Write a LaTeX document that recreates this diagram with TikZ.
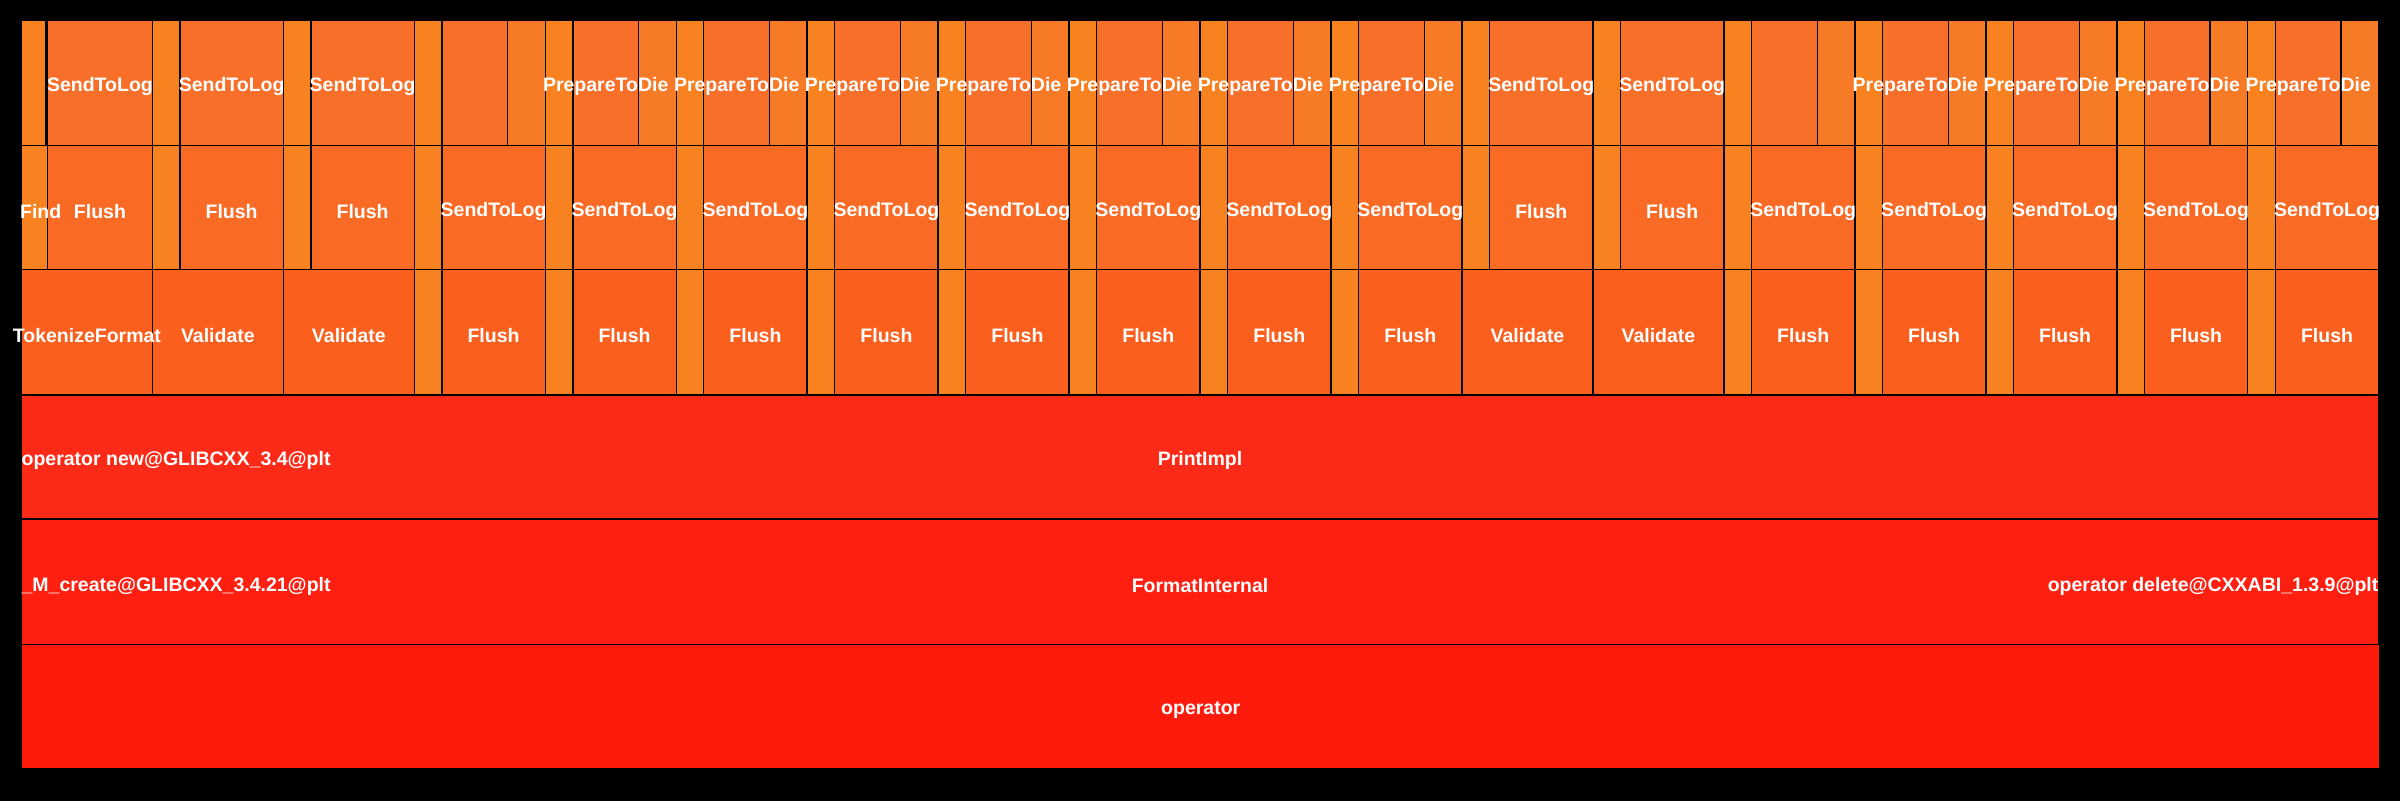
\documentclass[tikz,border=0pt]{standalone}
\usepackage{fontspec}
\setmainfont{Liberation Sans}
\definecolor{stubcol}{HTML}{F8821F}
\definecolor{topcol}{HTML}{F86F29}
\definecolor{tailcol}{HTML}{F77A27}
\definecolor{midcol}{HTML}{F96A25}
\definecolor{lowcol}{HTML}{FB5F1D}
\definecolor{printcol}{HTML}{FD2A18}
\definecolor{fmtcol}{HTML}{FE1F10}
\definecolor{opcol}{HTML}{FF1B0B}
\pgfdeclarelayer{labels}
\pgfsetlayers{main,labels}
\tikzset{
  frame/.style={draw=black,line width=1.4pt},
  lbl/.style={text=white,font=\bfseries\fontsize{19.5}{24}\selectfont,inner sep=0pt}
}
% one frame: x1, x2, top y, bottom y, colour, label
\newcommand{\fgbox}[6]{%
  \filldraw[frame,fill=#5] (#1,#3) rectangle (#2,#4);
  \begin{pgfonlayer}{labels}
    \node[lbl] at ({(#1+#2)/2},{(#3+#4)/2+2.5}) {#6};
  \end{pgfonlayer}}
\begin{document}
\begin{tikzpicture}[x=1.5306pt,y=-1.5306pt]
  \fill[black] (0,0) rectangle (1568,523);
  \useasboundingbox (0,0) rectangle (1568,523);

  % base rows
  \fgbox{14}{1555}{421}{502}{opcol}{operator}
  \fgbox{14}{1554}{339}{421}{fmtcol}{FormatInternal}
  \fgbox{14}{1554}{258}{339}{printcol}{PrintImpl}
  \begin{pgfonlayer}{labels}
    \node[lbl,anchor=west] (opnew) at (14,301) {operator new@GLIBCXX\_3.4@plt};
    \node[lbl,anchor=west] (mcreate) at (14,383) {\_M\_create@GLIBCXX\_3.4.21@plt};
    \node[lbl,anchor=east] (opdel) at (1554,383) {operator delete@CXXABI\_1.3.9@plt};
    \node[lbl,anchor=west] (find) at (13,138) {Find};
  \end{pgfonlayer}

  % column 0
  \fgbox{14}{99.6}{176}{258}{lowcol}{TokenizeFormat}
  \fgbox{14}{31}{95}{176}{stubcol}{}
  \fgbox{31}{99.6}{95}{176}{midcol}{Flush}
  \fgbox{14}{30}{13}{95}{stubcol}{}
  \fgbox{31}{99.6}{13}{95}{topcol}{SendToLog}

  % columns 1..17
  \foreach \k/\kind in {1/V,2/V,3/B,4/P,5/P,6/P,7/P,8/P,9/P,10/P,
                        11/V,12/V,13/B,14/P,15/P,16/P,17/P}{
    \pgfmathsetmacro{\cx}{14+85.56*\k}
    \pgfmathsetmacro{\cs}{\cx+18}
    \pgfmathsetmacro{\cm}{\cx+61}
    \pgfmathsetmacro{\ce}{\cx+85.56}
    \if\kind V
      \fgbox{\cx}{\ce}{176}{258}{lowcol}{Validate}
      \fgbox{\cx}{\cs}{95}{176}{stubcol}{}
      \fgbox{\cs}{\ce}{95}{176}{midcol}{Flush}
      \fgbox{\cx}{\cs}{13}{95}{stubcol}{}
      \fgbox{\cs}{\ce}{13}{95}{topcol}{SendToLog}
    \else
      \fgbox{\cx}{\cs}{176}{258}{stubcol}{}
      \fgbox{\cs}{\ce}{176}{258}{lowcol}{Flush}
      \fgbox{\cx}{\cs}{95}{176}{stubcol}{}
      \fgbox{\cs}{\ce}{95}{176}{midcol}{SendToLog}
      \fgbox{\cx}{\cs}{13}{95}{stubcol}{}
      \fgbox{\cm}{\ce}{13}{95}{tailcol}{}
      \if\kind P
        \fgbox{\cs}{\cm}{13}{95}{topcol}{PrepareToDie}
      \else
        \fgbox{\cs}{\cm}{13}{95}{topcol}{}
      \fi
    \fi
  }
\end{tikzpicture}
\end{document}
